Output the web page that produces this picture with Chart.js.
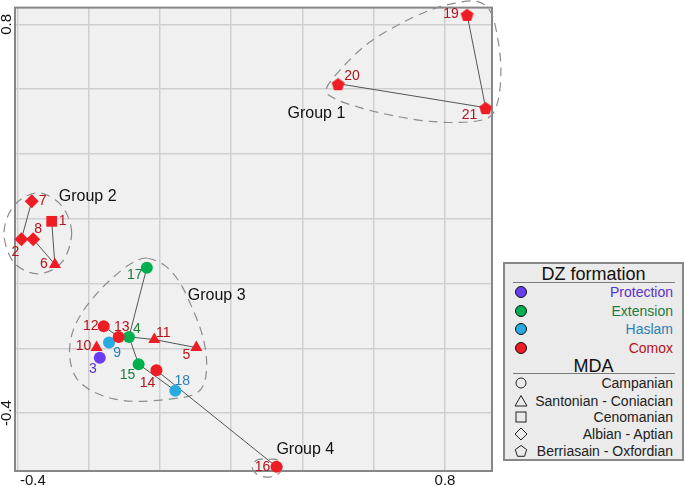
<!DOCTYPE html>
<html>
<head>
<meta charset="utf-8">
<script src="https://cdn.jsdelivr.net/npm/chart.js@4.4.1/dist/chart.umd.min.js"></script>
<style>
  html, body { margin: 0; padding: 0; background: #fff; }
  #wrap { position: relative; width: 685px; height: 486px; font-family: "Liberation Sans", Arial, sans-serif; }
  #chartBox { position: absolute; left: 0; top: 0; width: 685px; height: 486px; }
  #legend { position: absolute; left: 503px; top: 262px; width: 181px; height: 199px; box-sizing: border-box;
            background: #ebebeb; border: 2px solid #878787; }
  #legend .ttl { position: absolute; left: 0; width: 100%; text-align: center; font-size: 18px; line-height: 20px; color: #111; }
  #legend .rule { position: absolute; left: 8px; width: 162px; height: 0; border-top: 1.5px solid #7a7a7a; }
  #legend .row { position: absolute; right: 9px; font-size: 14px; line-height: 16px; text-align: right; white-space: nowrap; color: #222; }
  #legend svg { position: absolute; left: 9px; }
</style>
</head>
<body>
<div id="wrap">
  <div id="chartBox"><canvas id="c"></canvas></div>
  <div id="legend"></div>
</div>
<script>
// sample points
const ids = [1, 2, 3, 4, 5, 6, 7, 8, 9, 10, 11, 12, 13, 14, 15, 16, 17, 18, 19, 20, 21];
const xs = [-0.304, -0.389, -0.169, -0.087, 0.102, -0.295, -0.360, -0.356, -0.143, -0.178, -0.016,
            -0.158, -0.116, -0.010, -0.060, 0.327, -0.037, 0.043, 0.862, 0.500, 0.914];
const ys = [0.192, 0.137, -0.229, -0.165, -0.198, 0.059, 0.254, 0.137, -0.182, -0.198, -0.173,
            -0.132, -0.165, -0.268, -0.249, -0.566, 0.049, -0.331, 0.831, 0.617, 0.543];
const formation = ['Comox', 'Comox', 'Protection', 'Extension', 'Comox', 'Comox', 'Comox', 'Comox', 'Haslam', 'Comox', 'Comox',
                   'Comox', 'Comox', 'Comox', 'Extension', 'Comox', 'Extension', 'Haslam', 'Comox', 'Comox', 'Comox'];
const mda = ['Cenomanian', 'Albian - Aptian', 'Campanian', 'Campanian', 'Santonian - Coniacian', 'Santonian - Coniacian',
             'Albian - Aptian', 'Albian - Aptian', 'Campanian', 'Santonian - Coniacian', 'Santonian - Coniacian',
             'Campanian', 'Campanian', 'Campanian', 'Campanian', 'Campanian', 'Campanian', 'Campanian',
             'Berriasain - Oxfordian', 'Berriasain - Oxfordian', 'Berriasain - Oxfordian'];

// links between samples
const links = [[7, 2], [2, 8], [8, 6], [1, 6], [20, 21], [19, 21], [17, 4], [12, 13], [13, 4],
               [4, 11], [11, 5], [4, 15], [15, 18], [14, 16]];

// group outlines (data units)
const group1Outline = [[0.467, 0.602], [0.517, 0.673], [0.587, 0.744], [0.671, 0.800], [0.755, 0.843], [0.825, 0.865],
                       [0.890, 0.871], [0.929, 0.837], [0.949, 0.751], [0.957, 0.658], [0.949, 0.565], [0.923, 0.513],
                       [0.853, 0.498], [0.755, 0.501], [0.651, 0.519], [0.559, 0.544], [0.489, 0.572]];
const group2Outline = [[-0.248, 0.155], [-0.276, 0.240], [-0.343, 0.280], [-0.410, 0.240], [-0.438, 0.155],
                       [-0.410, 0.065], [-0.343, 0.030], [-0.276, 0.065]];
const group3Outline = [[-0.035, 0.078], [0.013, 0.056], [0.055, 0.004], [0.091, -0.077], [0.119, -0.160], [0.131, -0.243],
                       [0.122, -0.314], [0.089, -0.345], [0.027, -0.357], [-0.057, -0.364], [-0.127, -0.357],
                       [-0.189, -0.333], [-0.234, -0.293], [-0.253, -0.231], [-0.248, -0.160], [-0.220, -0.092],
                       [-0.169, -0.021], [-0.108, 0.041], [-0.063, 0.072]];
const group4Outline = [[0.343, -0.567], [0.331, -0.589], [0.301, -0.598], [0.272, -0.589], [0.259, -0.567],
                       [0.272, -0.545], [0.301, -0.543], [0.331, -0.545]];
const groupNames = ['Group 1', 'Group 2', 'Group 3', 'Group 4'];
const groupLabelX = [0.439, -0.203, 0.159, 0.408];
const groupLabelY = [0.525, 0.269, -0.036, -0.512];

const xGrid = [-0.4, -0.2, 0, 0.2, 0.4, 0.6, 0.8];
const yGrid = [-0.4, -0.2, 0, 0.2, 0.4, 0.6, 0.8];
const xTickLabels = [-0.4, 0.8];
const yTickLabels = [-0.4, 0.8];

const formations = ['Protection', 'Extension', 'Haslam', 'Comox'];
const mdaNames = ['Campanian', 'Santonian - Coniacian', 'Cenomanian', 'Albian - Aptian', 'Berriasain - Oxfordian'];

// styles
const fillColor = { Protection: '#6a3cf0', Extension: '#00b050', Haslam: '#29abe2', Comox: '#ee1c25' };
const textColor = { Protection: '#5a2fd0', Extension: '#1f7a3c', Haslam: '#2a7fb8', Comox: '#b5121b' };
const labelOffsets = {
    1: [11, 0], 2: [-6, 13], 3: [-7, 11], 4: [8, -8], 5: [-10, 8], 6: [-11, 0], 7: [11, 0], 8: [5, -10],
    9: [8, 11], 10: [-13, -1], 11: [9, -6], 12: [-13, 0], 13: [3, -10], 14: [-9, 13], 15: [-11, 11],
    16: [-14, 0], 17: [-12, 8], 18: [7, -10], 19: [-16, 0], 20: [14, -8], 21: [-16, 7]
};
const FONT = '"Liberation Sans", Arial, sans-serif';
Chart.defaults.font.family = FONT;

function makePentagon(r, fill, stroke) {
    const size = Math.ceil(r * 2 + 3);
    const cv = document.createElement('canvas');
    cv.width = size; cv.height = size;
    const g = cv.getContext('2d');
    g.beginPath();
    for (let i = 0; i < 5; i++) {
        const a = -Math.PI / 2 + i * 2 * Math.PI / 5;
        const px = size / 2 + r * Math.cos(a), py = size / 2 + 1 + r * Math.sin(a);
        i ? g.lineTo(px, py) : g.moveTo(px, py);
    }
    g.closePath();
    if (fill) { g.fillStyle = fill; g.fill(); }
    if (stroke) { g.strokeStyle = stroke; g.lineWidth = 1; g.stroke(); }
    return cv;
}
const pentagonRed = makePentagon(6.8, fillColor.Comox);

const styleFor = (m) => {
    if (m === 'Campanian') return ['circle', 6];
    if (m === 'Santonian - Coniacian') return ['triangle', 7];
    if (m === 'Cenomanian') return ['rect', 7.6];
    if (m === 'Albian - Aptian') return ['rectRot', 7];
    return [pentagonRed, 7];
};

const byId = (id) => ids.indexOf(id);

const lineSets = links.map(([a, b]) => ({
    data: [{ x: xs[byId(a)], y: ys[byId(a)] }, { x: xs[byId(b)], y: ys[byId(b)] }],
    showLine: true, borderColor: '#555', borderWidth: 1, pointRadius: 0, order: 2, clip: false
}));

const pointSet = {
    data: ids.map((id, i) => ({ x: xs[i], y: ys[i] })),
    pointStyle: mda.map(m => styleFor(m)[0]),
    pointRadius: mda.map(m => styleFor(m)[1]),
    backgroundColor: formation.map(f => fillColor[f]),
    borderWidth: 0,
    order: 1,
    clip: false
};

function closedCurve(ctx, pts) {
    const n = pts.length;
    ctx.beginPath();
    ctx.moveTo(pts[0].x, pts[0].y);
    for (let i = 0; i < n; i++) {
        const p0 = pts[(i - 1 + n) % n], p1 = pts[i], p2 = pts[(i + 1) % n], p3 = pts[(i + 2) % n];
        ctx.bezierCurveTo(p1.x + (p2.x - p0.x) / 6, p1.y + (p2.y - p0.y) / 6,
                          p2.x - (p3.x - p1.x) / 6, p2.y - (p3.y - p1.y) / 6, p2.x, p2.y);
    }
    ctx.closePath();
    ctx.stroke();
}

const decor = {
    id: 'decor',
    beforeDraw(chart) {
        const { ctx, chartArea: a } = chart;
        ctx.save();
        ctx.fillStyle = '#f0f0f0';
        ctx.fillRect(a.left, a.top, a.right - a.left, a.bottom - a.top);
        ctx.restore();
    },
    beforeDatasetsDraw(chart) {
        const { ctx, chartArea: a, scales: { x, y } } = chart;
        ctx.save();
        ctx.strokeStyle = '#878787';
        ctx.lineWidth = 2;
        ctx.strokeRect(a.left, a.top, a.right - a.left, a.bottom - a.top);

        ctx.strokeStyle = '#8c8c8c';
        ctx.lineWidth = 1.2;
        ctx.setLineDash([9, 6]);
        [group1Outline, group2Outline, group3Outline, group4Outline].forEach(o => {
            closedCurve(ctx, o.map(([vx, vy]) => ({ x: x.getPixelForValue(vx), y: y.getPixelForValue(vy) })));
        });
        ctx.restore();
    },
    afterDatasetsDraw(chart) {
        const { ctx, chartArea: a, scales: { x, y } } = chart;
        ctx.save();
        ctx.textAlign = 'center';
        ctx.textBaseline = 'middle';
        ctx.font = '14px ' + FONT;
        ids.forEach((id, i) => {
            const [dx, dy] = labelOffsets[id];
            ctx.fillStyle = textColor[formation[i]];
            ctx.fillText(String(id), x.getPixelForValue(xs[i]) + dx, y.getPixelForValue(ys[i]) + dy);
        });

        ctx.font = '16px ' + FONT;
        ctx.fillStyle = '#111';
        groupNames.forEach((g, i) => {
            ctx.fillText(g, x.getPixelForValue(groupLabelX[i]), y.getPixelForValue(groupLabelY[i]));
        });

        // axis tick labels
        ctx.font = '15px ' + FONT;
        ctx.fillStyle = '#111';
        xTickLabels.forEach(v => {
            const t = v.toFixed(1);
            const w = ctx.measureText(t).width;
            let px = x.getPixelForValue(v);
            if (px - w / 2 < a.left + 5) px = a.left + 5 + w / 2;
            ctx.fillText(t, px, a.bottom + 10);
        });
        yTickLabels.forEach(v => {
            ctx.save();
            ctx.translate(7, y.getPixelForValue(v));
            ctx.rotate(-Math.PI / 2);
            ctx.fillText(v.toFixed(1), 0, 0);
            ctx.restore();
        });
        ctx.restore();
    }
};

new Chart(document.getElementById('c'), {
    type: 'scatter',
    data: { datasets: [...lineSets, pointSet] },
    options: {
        responsive: true,
        maintainAspectRatio: false,
        animation: false,
        layout: { padding: { left: 15, top: 7, right: 193, bottom: 15 } },
        plugins: { legend: { display: false }, tooltip: { enabled: false } },
        scales: {
            x: {
                type: 'linear', min: -0.407, max: 0.932,
                afterBuildTicks: s => { s.ticks = xGrid.map(v => ({ value: v })); },
                ticks: { display: false },
                grid: { color: '#cfcfcf', lineWidth: 1.5, drawTicks: false },
                border: { display: false }
            },
            y: {
                type: 'linear', min: -0.579, max: 0.852,
                afterBuildTicks: s => { s.ticks = yGrid.map(v => ({ value: v })); },
                ticks: { display: false },
                grid: { color: '#cfcfcf', lineWidth: 1.5, drawTicks: false },
                border: { display: false }
            }
        }
    },
    plugins: [decor]
});

// legend
const legendEl = document.getElementById('legend');
const shapeSvg = (kind, fill) => {
    const s = fill ? `fill="${fill}" stroke="#111"` : 'fill="none" stroke="#222"';
    let body = '';
    if (kind === 'circle') body = `<circle cx="7" cy="7" r="${fill ? 5.5 : 5}" ${s} stroke-width="1"/>`;
    if (kind === 'triangle') body = `<polygon points="7,1.5 13,12 1,12" ${s} stroke-width="1"/>`;
    if (kind === 'rect') body = `<rect x="2" y="2" width="10" height="10" ${s} stroke-width="1"/>`;
    if (kind === 'rectRot') body = `<polygon points="7,1 13,7 7,13 1,7" ${s} stroke-width="1"/>`;
    if (kind === 'pentagon') body = `<polygon points="7,1.5 12.7,5.6 10.5,12.3 3.5,12.3 1.3,5.6" ${s} stroke-width="1"/>`;
    return `<svg width="14" height="14" viewBox="0 0 14 14">${body}</svg>`;
};
let html = '<div class="ttl" style="top:0px">DZ formation</div><div class="rule" style="top:18px"></div>';
const dzTops = [28, 47, 65, 84];
formations.forEach((f, i) => {
    html += `<div style="position:absolute;left:0;top:${dzTops[i] - 7}px">${shapeSvg('circle', fillColor[f])}</div>`;
    html += `<div class="row" style="top:${dzTops[i] - 8}px;color:${textColor[f]}">${f}</div>`;
});
html += '<div class="ttl" style="top:92px">MDA</div><div class="rule" style="top:109px"></div>';
const mdaTops = [119, 137, 153, 170, 187];
const mdaShapes = ['circle', 'triangle', 'rect', 'rectRot', 'pentagon'];
mdaNames.forEach((m, i) => {
    html += `<div style="position:absolute;left:0;top:${mdaTops[i] - 7}px">${shapeSvg(mdaShapes[i])}</div>`;
    html += `<div class="row" style="top:${mdaTops[i] - 8}px">${m}</div>`;
});
legendEl.innerHTML = html;
</script>
</body>
</html>
